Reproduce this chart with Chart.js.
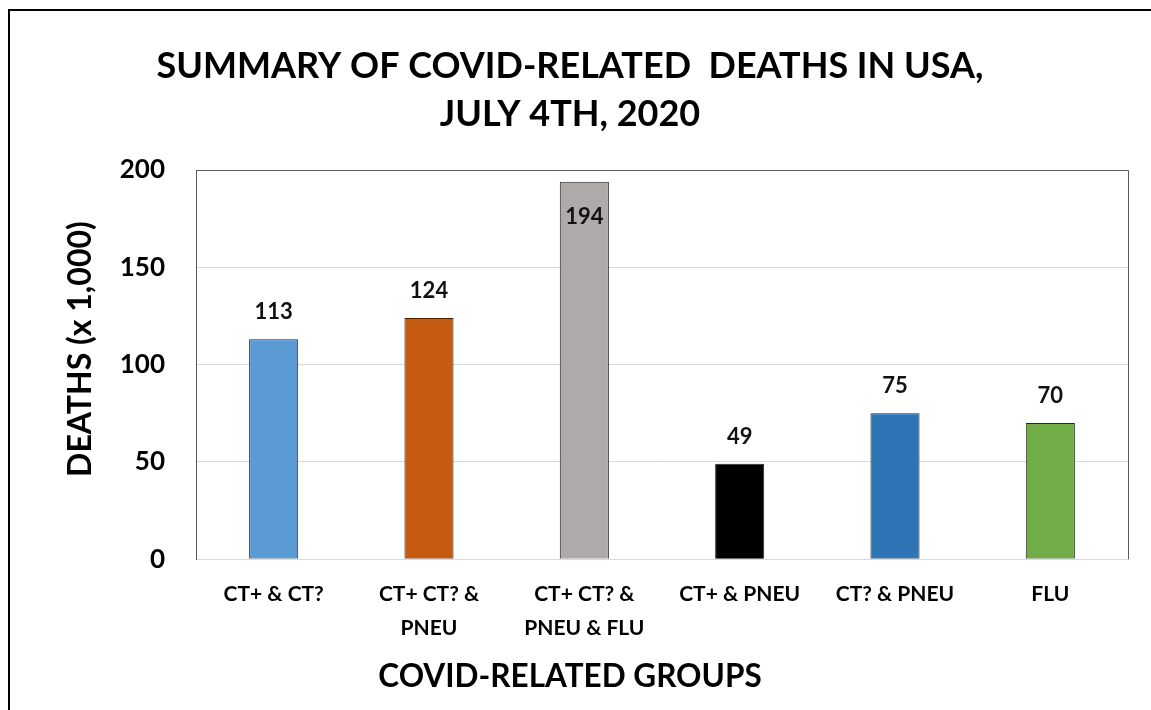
<!DOCTYPE html>
<html>
<head>
<meta charset="utf-8">
<title>Summary of COVID-related deaths in USA</title>
<script src="https://cdn.jsdelivr.net/npm/chart.js@4.4.1/dist/chart.umd.min.js"></script>
<style>
    html, body { margin: 0; padding: 0; background: #ffffff; }
    #wrap { width: 1151px; height: 710px; }
</style>
</head>
<body>
<div id="wrap"><canvas id="chart" width="1151" height="710"></canvas></div>
<script>
// Data
const groups = [
    'CT+ & CT?',
    ['CT+ CT? &', 'PNEU'],
    ['CT+ CT? &', 'PNEU & FLU'],
    'CT+ & PNEU',
    'CT? & PNEU',
    'FLU'
];
const deaths = [113, 124, 194, 49, 75, 70];
const yTickMin = 0;
const yTickMax = 200;
const yTickStep = 50;

const barColors = ['#5B9BD5', '#C55A11', '#AEAAAA', '#000000', '#2E75B6', '#70AD47'];

const FONT = 'Lato, "Open Sans", sans-serif';

// Frame lines on the left and top edges of the picture
const outerFrame = {
    id: 'outerFrame',
    beforeDraw: (chart) => {
        const ctx = chart.ctx;
        ctx.save();
        ctx.fillStyle = '#ffffff';
        ctx.fillRect(0, 0, chart.width, chart.height);
        ctx.strokeStyle = '#000000';
        ctx.lineWidth = 2;
        ctx.beginPath();
        ctx.moveTo(9, chart.height);
        ctx.lineTo(9, 10);
        ctx.lineTo(chart.width, 10);
        ctx.stroke();
        ctx.restore();
    }
};

// Top and right edges of the plot area (left edge is the y axis border)
const plotBorder = {
    id: 'plotBorder',
    afterDraw: (chart) => {
        const { ctx, chartArea } = chart;
        ctx.save();
        ctx.strokeStyle = '#595959';
        ctx.lineWidth = 1;
        ctx.beginPath();
        ctx.moveTo(chartArea.left, chartArea.top + 0.5);
        ctx.lineTo(chartArea.right + 0.5, chartArea.top + 0.5);
        ctx.lineTo(chartArea.right + 0.5, chartArea.bottom);
        ctx.stroke();
        ctx.restore();
    }
};

// Value labels above each bar (inside if it would leave the plot)
const valueLabels = {
    id: 'valueLabels',
    afterDatasetsDraw: (chart) => {
        const { ctx, chartArea } = chart;
        const meta = chart.getDatasetMeta(0);
        ctx.save();
        ctx.font = 'bold 22px ' + FONT;
        ctx.fillStyle = '#111111';
        ctx.textAlign = 'center';
        ctx.textBaseline = 'middle';
        meta.data.forEach((bar, i) => {
            let y = bar.y - 27;
            if (y - 10 < chartArea.top) y = bar.y + 35;
            ctx.fillText(chart.data.datasets[0].data[i].toString(), bar.x, y);
        });
        ctx.restore();
    }
};

const config = {
    type: 'bar',
    data: {
        labels: groups,
        datasets: [{
            data: deaths,
            backgroundColor: barColors,
            borderColor: '#262626',
            borderWidth: 1,
            barPercentage: 0.316,
            categoryPercentage: 1
        }]
    },
    options: {
        responsive: false,
        animation: false,
        layout: {
            padding: { top: 0, left: 12, right: 23, bottom: 0 }
        },
        plugins: {
            legend: { display: false },
            tooltip: { enabled: false },
            title: {
                display: true,
                text: ['SUMMARY OF COVID-RELATED  DEATHS IN USA,', 'JULY 4TH, 2020'],
                color: '#000000',
                font: { family: FONT, size: 36, weight: 'bold', lineHeight: 48 / 36 },
                padding: { top: 42, bottom: 32 }
            },
            // x axis title, centred on the whole picture as in the source
            subtitle: {
                display: true,
                position: 'bottom',
                text: 'COVID-RELATED GROUPS',
                color: '#000000',
                font: { family: FONT, size: 31.5, weight: 'bold', lineHeight: 1.2 },
                padding: { top: 0, bottom: 14 }
            }
        },
        scales: {
            x: {
                grid: { display: false },
                border: { display: true, color: '#d9d9d9', width: 1 },
                ticks: {
                    color: '#000000',
                    font: { family: FONT, size: 21, weight: 'bold', lineHeight: 34 / 21 },
                    padding: 10,
                    maxRotation: 0,
                    autoSkip: false
                },
                afterFit: (scale) => { scale.height = 99; }
            },
            y: {
                min: yTickMin,
                max: yTickMax,
                grid: { color: '#d9d9d9', drawTicks: false },
                border: { display: true, color: '#595959', width: 1 },
                ticks: {
                    stepSize: yTickStep,
                    color: '#000000',
                    font: { family: FONT, size: 26, weight: 'bold' },
                    padding: 31
                },
                title: {
                    display: true,
                    text: '    DEATHS (x 1,000)',
                    color: '#000000',
                    font: { family: FONT, size: 32, weight: 'bold', lineHeight: 1.2 },
                    padding: { top: 49, bottom: 0 }
                },
                afterFit: (scale) => { scale.width = 184; }
            }
        }
    },
    plugins: [outerFrame, plotBorder, valueLabels]
};

new Chart(document.getElementById('chart'), config);
</script>
</body>
</html>
